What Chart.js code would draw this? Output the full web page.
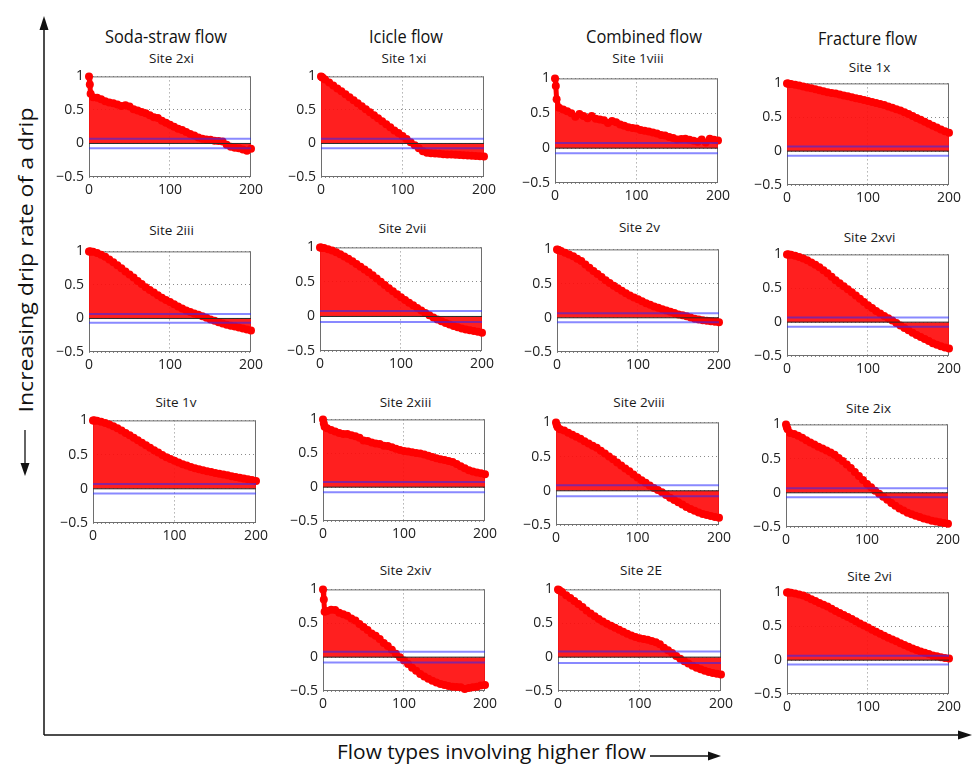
<!DOCTYPE html>
<html>
<head>
<meta charset="utf-8">
<title>Autocorrelation of drip rates by flow type</title>
<script src="https://cdn.jsdelivr.net/npm/chart.js@4.4.1/dist/chart.umd.min.js"></script>
<style>
  html, body { margin: 0; padding: 0; background: #fff; }
  #fig { position: relative; width: 972px; height: 765px; overflow: hidden; }
  #fig canvas { position: absolute; }
  #frame { position: absolute; left: 0; top: 0; }
</style>
</head>
<body>
<div id="fig">
  <svg id="frame" width="972" height="765" xmlns="http://www.w3.org/2000/svg"></svg>
</div>
<script>
// lags shared by every panel
const lags = [0, 1, 2, 5, 10, 15, 20, 25, 30, 35, 40, 45, 50, 55, 60, 65, 70, 75, 80, 85, 90, 95, 100,
  105, 110, 115, 120, 125, 130, 135, 140, 145, 150, 155, 160, 165, 170, 175, 180, 185, 190, 195, 200];

// autocorrelation, one array per site
const acf2xi = [1, 0.88, 0.74, 0.69, 0.68, 0.66, 0.63, 0.61, 0.60, 0.58, 0.56, 0.57, 0.55, 0.51, 0.49, 0.47, 0.45, 0.42, 0.39, 0.38, 0.34, 0.31, 0.28,
  0.25, 0.22, 0.20, 0.17, 0.14, 0.12, 0.09, 0.07, 0.06, 0.055, 0.04, 0.035, 0.03, -0.02, -0.05, -0.065, -0.07, -0.09, -0.11, -0.08];
const acf1xi = [1, 0.99, 0.98, 0.955, 0.91, 0.865, 0.82, 0.78, 0.735, 0.69, 0.645, 0.60, 0.555, 0.51, 0.465, 0.42, 0.375, 0.33, 0.285, 0.24, 0.195, 0.155, 0.11,
  0.065, 0.02, -0.025, -0.07, -0.115, -0.14, -0.145, -0.15, -0.155, -0.16, -0.163, -0.166, -0.17, -0.173, -0.176, -0.18, -0.183, -0.186, -0.19, -0.195];
const acf1viii = [1, 0.89, 0.70, 0.58, 0.555, 0.53, 0.50, 0.45, 0.49, 0.46, 0.43, 0.46, 0.42, 0.41, 0.40, 0.36, 0.39, 0.37, 0.34, 0.32, 0.30, 0.29, 0.28,
  0.26, 0.25, 0.24, 0.225, 0.21, 0.19, 0.18, 0.16, 0.145, 0.125, 0.13, 0.135, 0.12, 0.105, 0.09, 0.125, 0.08, 0.135, 0.12, 0.11];
const acf1x = [1, 0.998, 0.996, 0.99, 0.98, 0.97, 0.955, 0.94, 0.93, 0.915, 0.90, 0.885, 0.87, 0.86, 0.85, 0.835, 0.82, 0.81, 0.795, 0.78, 0.77, 0.755, 0.74,
  0.725, 0.71, 0.695, 0.68, 0.66, 0.64, 0.62, 0.60, 0.575, 0.55, 0.52, 0.49, 0.465, 0.435, 0.405, 0.375, 0.35, 0.32, 0.295, 0.27];
const acf2iii = [1, 0.999, 0.998, 0.995, 0.976, 0.95, 0.92, 0.88, 0.84, 0.795, 0.75, 0.70, 0.655, 0.61, 0.56, 0.515, 0.467, 0.425, 0.387, 0.348, 0.31, 0.277, 0.245,
  0.212, 0.18, 0.15, 0.12, 0.097, 0.075, 0.054, 0.033, 0.01, -0.014, -0.035, -0.057, -0.076, -0.094, -0.107, -0.12, -0.135, -0.15, -0.165, -0.18];
const acf2vii = [1, 0.998, 0.995, 0.99, 0.975, 0.955, 0.93, 0.90, 0.87, 0.835, 0.80, 0.76, 0.72, 0.68, 0.64, 0.595, 0.55, 0.503, 0.456, 0.41, 0.364, 0.32, 0.28,
  0.24, 0.20, 0.162, 0.124, 0.087, 0.05, 0.018, -0.014, -0.043, -0.07, -0.093, -0.115, -0.137, -0.157, -0.175, -0.19, -0.20, -0.21, -0.222, -0.235];
const acf2v = [1, 0.995, 0.99, 0.975, 0.95, 0.925, 0.90, 0.865, 0.83, 0.78, 0.73, 0.685, 0.64, 0.595, 0.55, 0.51, 0.47, 0.432, 0.395, 0.36, 0.325, 0.297, 0.27,
  0.242, 0.214, 0.19, 0.167, 0.146, 0.126, 0.107, 0.088, 0.069, 0.05, 0.036, 0.023, 0.005, -0.014, -0.026, -0.037, -0.044, -0.05, -0.058, -0.065];
const acf2xvi = [1, 0.999, 0.998, 0.995, 0.98, 0.962, 0.94, 0.912, 0.88, 0.847, 0.81, 0.767, 0.72, 0.67, 0.62, 0.575, 0.53, 0.485, 0.44, 0.392, 0.345, 0.297, 0.25,
  0.207, 0.165, 0.127, 0.09, 0.057, 0.025, -0.012, -0.05, -0.085, -0.12, -0.155, -0.19, -0.22, -0.25, -0.28, -0.31, -0.333, -0.355, -0.373, -0.39];
const acf1v = [1, 0.999, 0.998, 0.995, 0.98, 0.962, 0.94, 0.914, 0.886, 0.852, 0.817, 0.783, 0.748, 0.711, 0.674, 0.637, 0.60, 0.565, 0.53, 0.495, 0.46, 0.435, 0.41,
  0.385, 0.36, 0.339, 0.318, 0.302, 0.286, 0.272, 0.258, 0.244, 0.23, 0.219, 0.208, 0.197, 0.185, 0.172, 0.16, 0.149, 0.138, 0.127, 0.115];
const acf2xiii = [1, 0.94, 0.89, 0.87, 0.845, 0.82, 0.80, 0.785, 0.785, 0.766, 0.75, 0.73, 0.69, 0.68, 0.66, 0.645, 0.636, 0.61, 0.607, 0.59, 0.565, 0.55, 0.533,
  0.525, 0.514, 0.505, 0.495, 0.48, 0.463, 0.445, 0.425, 0.41, 0.40, 0.385, 0.37, 0.34, 0.31, 0.28, 0.25, 0.23, 0.215, 0.205, 0.19];
const acf2viii = [1, 0.96, 0.93, 0.90, 0.88, 0.85, 0.82, 0.79, 0.76, 0.725, 0.69, 0.66, 0.63, 0.587, 0.544, 0.502, 0.46, 0.415, 0.37, 0.327, 0.284, 0.24, 0.195,
  0.155, 0.116, 0.079, 0.042, 0.01, -0.023, -0.062, -0.10, -0.133, -0.167, -0.202, -0.237, -0.265, -0.293, -0.317, -0.34, -0.355, -0.37, -0.383, -0.395];
const acf2ix = [1, 0.96, 0.93, 0.875, 0.86, 0.835, 0.805, 0.77, 0.735, 0.705, 0.675, 0.648, 0.62, 0.59, 0.557, 0.51, 0.464, 0.413, 0.362, 0.303, 0.245, 0.187, 0.13,
  0.08, 0.03, -0.013, -0.057, -0.103, -0.15, -0.19, -0.23, -0.26, -0.29, -0.313, -0.337, -0.355, -0.374, -0.392, -0.41, -0.42, -0.43, -0.442, -0.453];
const acf2xiv = [1, 0.85, 0.67, 0.68, 0.70, 0.695, 0.657, 0.634, 0.61, 0.57, 0.54, 0.49, 0.446, 0.40, 0.35, 0.315, 0.268, 0.21, 0.164, 0.108, 0.05, 0.0, -0.05,
  -0.10, -0.155, -0.20, -0.25, -0.285, -0.32, -0.35, -0.375, -0.395, -0.41, -0.425, -0.437, -0.442, -0.446, -0.47, -0.455, -0.445, -0.437, -0.42, -0.41];
const acf2E = [1, 0.99, 0.985, 0.96, 0.915, 0.872, 0.83, 0.785, 0.74, 0.69, 0.643, 0.602, 0.563, 0.527, 0.493, 0.462, 0.432, 0.403, 0.375, 0.347, 0.32, 0.298, 0.28,
  0.268, 0.258, 0.24, 0.22, 0.19, 0.14, 0.10, 0.06, 0.018, -0.023, -0.06, -0.094, -0.126, -0.155, -0.18, -0.20, -0.218, -0.235, -0.247, -0.258];
const acf2vi = [1, 0.999, 0.998, 0.995, 0.985, 0.97, 0.953, 0.928, 0.90, 0.872, 0.845, 0.817, 0.79, 0.758, 0.727, 0.697, 0.667, 0.636, 0.606, 0.573, 0.54, 0.51, 0.48,
  0.45, 0.42, 0.39, 0.36, 0.332, 0.305, 0.277, 0.25, 0.223, 0.197, 0.173, 0.15, 0.129, 0.108, 0.089, 0.07, 0.056, 0.042, 0.032, 0.023];

const sites = ['Site 2xi', 'Site 1xi', 'Site 1viii', 'Site 1x',
  'Site 2iii', 'Site 2vii', 'Site 2v', 'Site 2xvi',
  'Site 1v', 'Site 2xiii', 'Site 2viii', 'Site 2ix',
  'Site 2xiv', 'Site 2E', 'Site 2vi'];
const series = [acf2xi, acf1xi, acf1viii, acf1x,
  acf2iii, acf2vii, acf2v, acf2xvi,
  acf1v, acf2xiii, acf2viii, acf2ix,
  acf2xiv, acf2E, acf2vi];
// confidence bounds (blue lines), +/- value
const bounds = [0.07, 0.07, 0.075, 0.07, 0.065, 0.08, 0.065, 0.07, 0.07, 0.075, 0.08, 0.065, 0.08, 0.085, 0.065];

const xTicks = [0, 100, 200];
const yTicks = [-0.5, 0, 0.5, 1];
const columnTitles = ['Soda-straw flow', 'Icicle flow', 'Combined flow', 'Fracture flow'];
const yLabel = 'Increasing drip rate of a drip';
const xLabel = 'Flow types involving higher flow';

// layout: plot area left, top, width, height, title baseline
const panels = [
  [89, 71, 165, 106, 63], [321, 71, 166, 106, 63], [555, 73, 166, 110, 63], [787, 78, 165, 107, 72],
  [89, 246, 165, 106, 235], [320, 242, 165, 109, 233], [557, 244, 165, 108, 232], [787, 249, 165, 107, 242],
  [93, 415, 166, 108, 407], [323, 414, 165, 107, 407], [556, 417, 166, 108, 407], [786, 419, 165, 108, 413],
  [323, 584, 165, 107, 575], [558, 584, 166, 107, 575], [787, 587, 165, 107, 581]
];
// column headings: left, baseline, text length
const headPos = [[105, 43, 122], [369, 43, 74], [586, 43, 116], [818, 45, 99]];

const FONT = '"Open Sans", "Noto Sans", sans-serif';
const fig = document.getElementById('fig');
const svg = document.getElementById('frame');
const NS = 'http://www.w3.org/2000/svg';

function add(tag, attrs, text) {
  const el = document.createElementNS(NS, tag);
  for (const k in attrs) el.setAttribute(k, attrs[k]);
  if (text) el.textContent = text;
  svg.appendChild(el);
  return el;
}

// big axes with arrows
add('line', { x1: 44, y1: 28, x2: 44, y2: 735, stroke: '#111', 'stroke-width': 1.5 });
add('polygon', { points: '44,16 39.5,30 48.5,30', fill: '#111' });
add('line', { x1: 44, y1: 735, x2: 960, y2: 735, stroke: '#111', 'stroke-width': 1.5 });
add('polygon', { points: '972,735 958,730.5 958,739.5', fill: '#111' });
add('text', { transform: 'translate(33,260) rotate(-90)', 'text-anchor': 'middle', 'font-family': FONT,
  'font-size': 20, fill: '#111', textLength: 305, lengthAdjust: 'spacingAndGlyphs' }, yLabel);
add('line', { x1: 25, y1: 430, x2: 25, y2: 466, stroke: '#111', 'stroke-width': 1.3 });
add('polygon', { points: '25,476 20.5,463 29.5,463', fill: '#111' });
add('text', { x: 337, y: 759, 'font-family': FONT, 'font-size': 20, fill: '#111',
  textLength: 309, lengthAdjust: 'spacingAndGlyphs' }, xLabel);
add('line', { x1: 650, y1: 756, x2: 710, y2: 756, stroke: '#111', 'stroke-width': 1.3 });
add('polygon', { points: '721,756 708,751.5 708,760.5', fill: '#111' });

columnTitles.forEach((t, i) => {
  const p = headPos[i];
  add('text', { x: p[0], y: p[1], 'font-family': FONT, 'font-size': 18, fill: '#111',
    textLength: p[2], lengthAdjust: 'spacingAndGlyphs' }, t);
});

const boxPlugin = {
  id: 'box',
  beforeDatasetsDraw(chart) {
    const a = chart.chartArea, c = chart.ctx;
    c.save();
    c.strokeStyle = '#6e6e6e';
    c.lineWidth = 1;
    c.strokeRect(a.left + 0.5, a.top + 0.5, a.right - a.left - 1, a.bottom - a.top - 1);
    c.restore();
  }
};

function hline(y, color, width) {
  return {
    data: [{ x: xTicks[0], y: y }, { x: xTicks[xTicks.length - 1], y: y }],
    borderColor: color, borderWidth: width, pointRadius: 0, fill: false
  };
}

const tickFont = { family: FONT, size: 14 };

panels.forEach((p, i) => {
  const [bx, by, bw, bh, ty] = p;
  add('text', { x: bx + bw / 2, y: ty, 'text-anchor': 'middle', 'font-family': FONT, 'font-size': 13.5, fill: '#1a1a1a' }, sites[i]);

  const cv = document.createElement('canvas');
  cv.width = bw + 58;
  cv.height = bh + 36;
  cv.style.left = (bx - 44) + 'px';
  cv.style.top = (by - 8) + 'px';
  fig.appendChild(cv);

  const vals = series[i];
  const b = bounds[i];
  new Chart(cv, {
    type: 'line',
    data: {
      datasets: [
        hline(0, '#2a2a2a', 1),
        hline(b, 'rgba(40,40,255,0.55)', 2),
        hline(-b, 'rgba(40,40,255,0.55)', 2),
        {
          data: lags.map((l, k) => ({ x: l, y: vals[k] })),
          borderColor: '#ff0000', borderWidth: 5, tension: 0,
          borderJoinStyle: 'round', borderCapStyle: 'round',
          backgroundColor: 'rgba(255,12,12,0.92)', fill: 'origin',
          pointRadius: 4, pointBackgroundColor: '#ff0000', pointBorderWidth: 0,
          clip: false
        }
      ]
    },
    options: {
      responsive: false, animation: false, devicePixelRatio: 1, events: [],
      layout: { padding: { left: 4, top: 8, right: 14, bottom: 4 } },
      plugins: { legend: { display: false }, tooltip: { enabled: false } },
      scales: {
        x: {
          type: 'linear', min: xTicks[0], max: xTicks[xTicks.length - 1],
          afterBuildTicks: s => { s.ticks = xTicks.map(v => ({ value: v })); },
          afterFit: s => { s.height = 24; },
          ticks: { font: tickFont, color: '#222', padding: 5, maxRotation: 0, autoSkip: false },
          grid: { color: '#8a8a8a', drawTicks: false },
          border: { display: false, dash: [1, 3] }
        },
        y: {
          type: 'linear', min: yTicks[0], max: yTicks[yTicks.length - 1],
          afterBuildTicks: s => { s.ticks = yTicks.map(v => ({ value: v })); },
          afterFit: s => { s.width = 40; },
          ticks: {
            font: tickFont, color: '#222', padding: 5,
            callback: v => (v < 0 ? '\u2212' + Math.abs(v) : String(v))
          },
          grid: { color: '#8a8a8a', drawTicks: false },
          border: { display: false, dash: [1, 3] }
        }
      }
    },
    plugins: [boxPlugin]
  });
});
</script>
</body>
</html>
